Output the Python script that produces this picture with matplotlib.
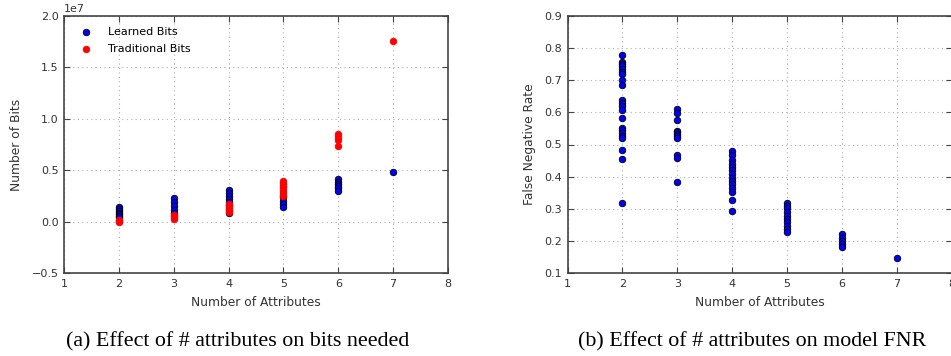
import matplotlib
matplotlib.use("Agg")
import matplotlib.pyplot as plt
import numpy as np

# ---- data (a) ----
learned_x = [2]*7 + [3]*5 + [4]*8 + [5]*5 + [6]*6 + [7]
learned_y = [1.40e6, 1.20e6, 1.00e6, 0.85e6, 0.70e6, 0.55e6, 0.40e6,
             2.33e6, 1.95e6, 1.55e6, 1.15e6, 0.80e6,
             3.07e6, 2.80e6, 2.50e6, 2.20e6, 1.90e6, 1.60e6, 1.20e6, 0.80e6,
             2.60e6, 2.40e6, 2.00e6, 1.75e6, 1.45e6,
             4.10e6, 3.90e6, 3.70e6, 3.50e6, 3.25e6, 2.95e6,
             4.82e6]
trad_x = [2]*4 + [3]*4 + [4]*7 + [5]*9 + [6]*4 + [7]
trad_y = [0.00e6, 0.05e6, 0.10e6, 0.15e6,
          0.30e6, 0.40e6, 0.50e6, 0.60e6,
          1.75e6, 1.60e6, 1.45e6, 1.30e6, 1.15e6, 1.00e6, 0.90e6,
          3.95e6, 3.80e6, 3.65e6, 3.50e6, 3.35e6, 3.20e6, 3.00e6, 2.80e6, 2.50e6,
          8.50e6, 8.27e6, 7.94e6, 7.38e6,
          1.753e7]

# ---- data (b) ----
fnr_x = [2]*22 + [3]*11 + [4]*14 + [5]*10 + [6]*5 + [7]
fnr_y = [0.778, 0.756, 0.750, 0.745, 0.735, 0.727, 0.720, 0.700, 0.684, 0.637, 0.630,
         0.620, 0.608, 0.584, 0.551, 0.545, 0.535, 0.528, 0.519, 0.483, 0.454, 0.317,
         0.610, 0.598, 0.576, 0.543, 0.538, 0.532, 0.525, 0.519, 0.468, 0.457, 0.383,
         0.481, 0.467, 0.453, 0.440, 0.429, 0.422, 0.408, 0.396, 0.386, 0.378, 0.365,
         0.352, 0.326, 0.293,
         0.318, 0.310, 0.302, 0.291, 0.277, 0.267, 0.258, 0.246, 0.236, 0.228,
         0.220, 0.210, 0.200, 0.190, 0.182,
         0.147]

captions = ["(a) Effect of # attributes on bits needed",
            "(b) Effect of # attributes on model FNR"]

fig = plt.figure(figsize=(9.51, 3.56), dpi=100)
axL = fig.add_axes([64/951, 1-273/356, 384/951, 257/356])
axR = fig.add_axes([567.5/951, 1-273/356, 384/951, 257/356])

def style(ax):
    ax.grid(True, linestyle=(0, (1, 3)), color='#b0b0b0', linewidth=0.8)
    ax.set_axisbelow(True)
    for s in ax.spines.values():
        s.set_color('#444444')
        s.set_linewidth(1.2)
    ax.tick_params(direction='in', top=True, right=True, labelsize=8,
                   length=4, width=0.8, color='#444444', labelcolor='#333333', pad=4)
    ax.set_xlim(1, 8)
    ax.set_xticks(range(1, 9))
    ax.set_xlabel("Number of Attributes", fontsize=8.8, color='#333333', labelpad=5)

axL.scatter(learned_x, learned_y, s=22, c='blue', edgecolors='black', linewidths=0.6,
            label='Learned Bits', zorder=3)
axL.scatter(trad_x, trad_y, s=22, c='red', edgecolors='red', linewidths=0.6,
            label='Traditional Bits', zorder=3)
style(axL)
axL.set_ylim(-0.5e7, 2.0e7)
axL.set_yticks(np.arange(-0.5e7, 2.01e7, 0.5e7))
axL.yaxis.get_offset_text().set_fontsize(8)
axL.yaxis.get_offset_text().set_color('#333333')
axL.set_ylabel("Number of Bits", fontsize=8.8, color='#333333', labelpad=6)
axL.legend(loc='upper left', frameon=False, fontsize=8, scatterpoints=1,
           handletextpad=1.0, borderaxespad=0.6, labelspacing=0.65)

axR.scatter(fnr_x, fnr_y, s=22, c='blue', edgecolors='black', linewidths=0.6, zorder=3)
style(axR)
axR.set_ylim(0.1, 0.9)
axR.set_yticks(np.arange(0.1, 0.91, 0.1))
axR.set_ylabel("False Negative Rate", fontsize=8.8, color='#333333', labelpad=6)

fig.text(238/951, 1-342/356, captions[0], ha='center', va='center',
         family='Liberation Serif', fontsize=15.8)
fig.text(752/951, 1-342/356, captions[1], ha='center', va='center',
         family='Liberation Serif', fontsize=15.8)

fig.savefig("out.png", dpi=100)
